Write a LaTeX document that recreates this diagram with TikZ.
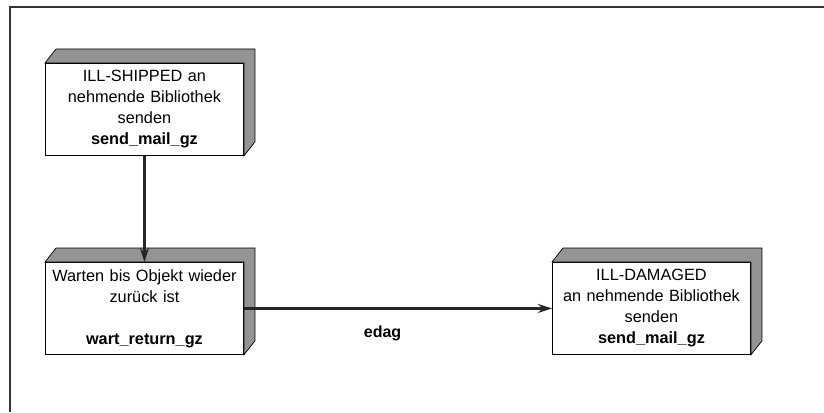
\documentclass[tikz,border=0pt]{standalone}
\usepackage{fontspec}
\setmainfont{Liberation Sans}
\usetikzlibrary{arrows.meta,calc}
\begin{document}
\begin{tikzpicture}[x=1pt,y=-1pt,
  boxfront/.style={draw=black,line width=0.9pt,fill=white,minimum width=198pt,minimum height=92pt,inner sep=0pt,text width=194pt,align=center,font=\fontsize{16.3}{21}\selectfont,anchor=north west},
  bevel/.style={draw=black,line width=0.7pt,fill=black!42},
  conn/.style={line width=2.2pt,draw=black!85,-{Stealth[length=14pt,width=9pt]}},
  lbl/.style={font=\fontsize{16}{18}\selectfont\bfseries,inner sep=0pt}
]
\useasboundingbox (0,0) rectangle (824,412);
\draw[line width=1.5pt,black!80] (10,412) -- (10,7) -- (824,7);
\node[boxfront] (ship) at (45,63) {ILL-SHIPPED an\\nehmende Bibliothek\\senden\\\textbf{send\_mail\_gz}};
\node[boxfront] (wart) at (45,262) {Warten bis Objekt wieder\\zurück ist\\~\\\textbf{wart\_return\_gz}};
\node[boxfront] (dam) at (552,262) {ILL-DAMAGED\\an nehmende Bibliothek\\senden\\\textbf{send\_mail\_gz}};
\foreach \n in {ship,wart,dam}{
  \draw[bevel] (\n.north west) -- ++(11,-14) -- ($(\n.north east)+(11,-14)$) -- ($(\n.south east)+(11,-14)$) -- (\n.south east) -- (\n.north east) -- cycle;
}
\draw[conn] (ship.south) -- (wart.north);
\draw[conn] (wart.east) -- (dam.west) node[lbl,pos=0.45,below=16pt] (edag) {edag};
\end{tikzpicture}
\end{document}
